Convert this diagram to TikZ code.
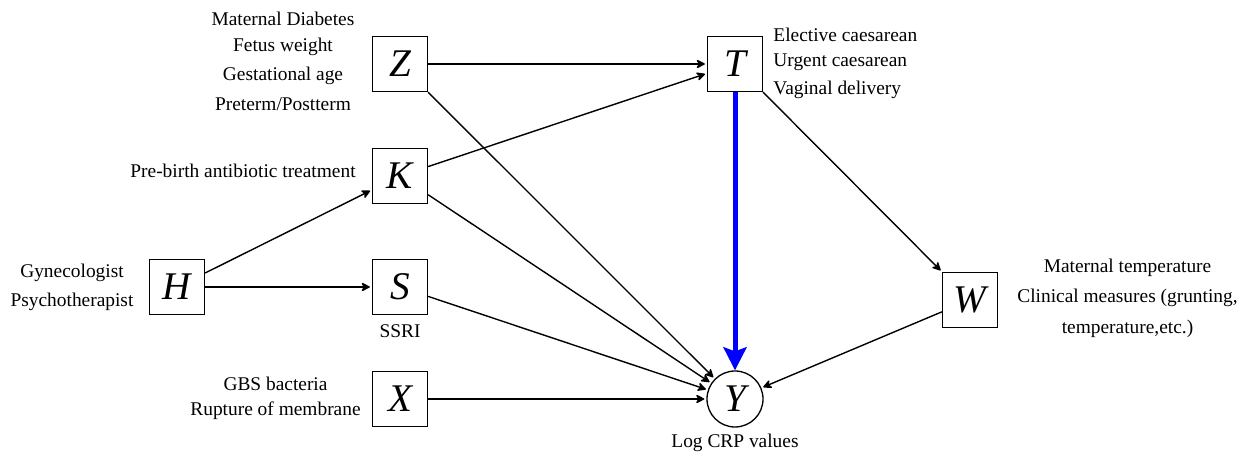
\documentclass[tikz,border=0pt]{standalone}
\usepackage{fontspec}
\setmainfont{Liberation Serif}
\usetikzlibrary{arrows.meta}
\begin{document}
\begin{tikzpicture}[x=0.5pt,y=-0.5pt,
  var/.style={draw,line width=0.65pt,minimum size=27.5pt,inner sep=0pt,font=\fontsize{19.6}{20}\selectfont\itshape},
  outc/.style={draw,circle,line width=0.65pt,minimum size=28pt,inner sep=0pt,font=\fontsize{19.6}{20}\selectfont\itshape},
  lbl/.style={font=\fontsize{9.7}{11.6}\selectfont,inner sep=0pt},
  arr/.style={line width=0.7pt,-{Stealth[length=5pt,width=5pt,inset=1.5pt,round]},shorten >=1pt},
  causal/.style={blue,line width=2.5pt,-{Stealth[length=11.5pt,width=11.5pt,inset=2pt]}}]
\useasboundingbox (0,0) rectangle (1247,453);
% variables
\node[var] (Z) at (400,64) {Z};
\node[var] (T) at (735,64) {T};
\node[var] (K) at (400,176) {K};
\node[var] (H) at (177,287) {H};
\node[var] (S) at (400,287) {S};
\node[var] (X) at (400,399) {X};
\node[var] (W) at (970,300) {W};
\node[outc] (Y) at (735,399) {Y};
% labels
\node[lbl,anchor=base] (z1) at (283,26) {Maternal Diabetes};
\node[lbl,anchor=base] (z2) at (283,52) {Fetus weight};
\node[lbl,anchor=base] (z3) at (283,81) {Gestational age};
\node[lbl,anchor=base] (z4) at (283,111) {Preterm/Postterm};
\node[lbl,anchor=base east] (k1) at (356,178) {Pre-birth antibiotic treatment};
\node[lbl,anchor=base west] (t1) at (773,42) {Elective caesarean};
\node[lbl,anchor=base west] (t2) at (773,67) {Urgent caesarean};
\node[lbl,anchor=base west] (t3) at (773,95) {Vaginal delivery};
\node[lbl,anchor=base] (h1) at (72,278) {Gynecologist};
\node[lbl,anchor=base] (h2) at (72,307) {Psychotherapist};
\node[lbl,anchor=base] (s1) at (400,338) {SSRI};
\node[lbl,anchor=base] (x1) at (275.5,391) {GBS bacteria};
\node[lbl,anchor=base] (x2) at (275.5,416) {Rupture of membrane};
\node[lbl,anchor=base] (y1) at (735,448) {Log CRP values};
\node[lbl,anchor=base] (w1) at (1127.5,273) {Maternal temperature};
\node[lbl,anchor=base] (w2) at (1127.5,303) {Clinical measures (grunting,};
\node[lbl,anchor=base] (w3) at (1127.5,334) {temperature,etc.)};
% edges
\draw[arr] (Z) -- (T);
\draw[arr] (Z) -- (Y);
\draw[arr] (K) -- (T);
\draw[arr] (K) -- (Y);
\draw[arr] (H) -- (K);
\draw[arr] (H) -- (S);
\draw[arr] (S) -- (Y);
\draw[arr] (X) -- (Y);
\draw[arr] (T) -- (W);
\draw[arr] (W) -- (Y);
\draw[causal] (T) -- (Y);
\end{tikzpicture}
\end{document}
